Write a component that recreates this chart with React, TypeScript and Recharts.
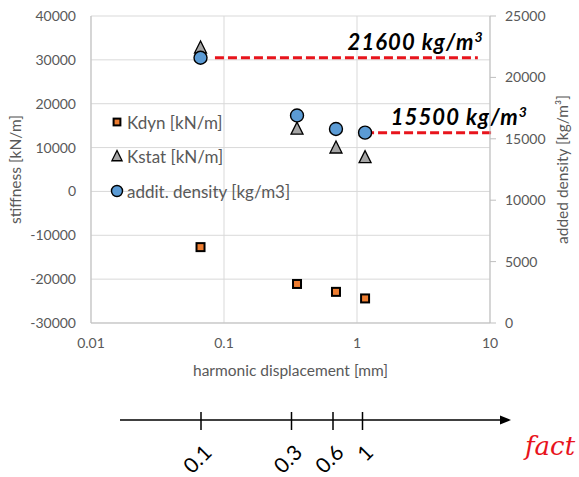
import React from 'react';
import { ComposedChart, Scatter, XAxis, YAxis, CartesianGrid, ReferenceLine, Legend } from 'recharts';

// harmonic displacement [mm] per test
const displacement = [0.0666, 0.354, 0.695, 1.15];
const kdyn = [-12700, -21100, -22900, -24400];
const kstat = [32700, 14200, 9900, 7700];
const addedDensity = [21600, 16900, 15800, 15500];

const xTicks = [0.01, 0.1, 1, 10];
const leftTicks = [-30000, -20000, -10000, 0, 10000, 20000, 30000, 40000];
const rightTicks = [0, 5000, 10000, 15000, 20000, 25000];

// red dashed density markers
const refDensity = [21600, 15500];
const refFrom = [0.0855, 1.15];
const refTo = [8.1, 10.35];
const refText = ['21600 kg/m', '15500 kg/m'];

// lower "fact" scale
const factLabels = ['0.1', '0.3', '0.6', '1'];
const factTickX = [201, 291.5, 333, 362.5];

const rows = displacement.map((d, i) => ({
  disp: d,
  kdyn: kdyn[i],
  kstat: kstat[i],
  density: addedDensity[i],
}));

const FONT = 'Lato, "Open Sans", sans-serif';
const GREY_TEXT = '#595959';

const marker = (type: string, cx: number, cy: number, s = 1) => {
  if (type === 'square')
    return <rect x={cx - 4 * s} y={cy - 4 * s} width={8 * s} height={8 * s} fill="#ED7D31" stroke="#000" strokeWidth={2} />;
  if (type === 'triangle')
    return (
      <polygon
        points={`${cx},${cy - 7 * s} ${cx - 6 * s},${cy + 5 * s} ${cx + 6 * s},${cy + 5 * s}`}
        fill="#A5A5A5"
        stroke="#000"
        strokeWidth={1.3}
      />
    );
  return <circle cx={cx} cy={cy} r={6.5 * s} fill="#5B9BD5" stroke="#000" strokeWidth={1.4} />;
};

const shape = (type: string) => (p: any) => <g>{marker(type, p.cx, p.cy)}</g>;

const renderLegend = (props: any) => (
  <svg width={240} height={110} style={{ overflow: 'visible' }}>
    {(props.payload || []).map((e: any, i: number) => {
      const cy = 18 + i * 34.5;
      return (
        <g key={i}>
          {marker(e.type, 11, cy, 0.85)}
          <text x={21} y={cy} dominantBaseline="central" fontFamily={FONT} fontSize={17} fill={GREY_TEXT}>
            {e.value}
          </text>
        </g>
      );
    })}
  </svg>
);

const yTitle = (text: string, dx: number) => (props: any) => {
  const vb = props.viewBox;
  const cx = vb.x + dx;
  const cy = vb.y + vb.height / 2;
  return (
    <text
      x={cx}
      y={cy}
      transform={`rotate(-90 ${cx} ${cy})`}
      textAnchor="middle"
      dominantBaseline="central"
      fontFamily={FONT}
      fontSize={15.5}
      fill={GREY_TEXT}
    >
      {text}
    </text>
  );
};

const xTitle = (props: any) => {
  const vb = props.viewBox;
  return (
    <text
      x={vb.x + vb.width / 2}
      y={vb.y + 47}
      textAnchor="middle"
      dominantBaseline="central"
      fontFamily={FONT}
      fontSize={15.5}
      fill={GREY_TEXT}
    >
      harmonic displacement [mm]
    </text>
  );
};

const annot = (text: string, dx: number) => (props: any) => {
  const vb = props.viewBox;
  return (
    <text
      x={vb.x + vb.width + dx}
      y={vb.y - 8}
      textAnchor="end"
      fontFamily={FONT}
      fontWeight={700}
      fontStyle="italic"
      fontSize={22}
      letterSpacing={1.1}
      fill="#000"
    >
      {text}
      <tspan dy={-8} fontSize={14}>3</tspan>
    </text>
  );
};

const annotDx = [6, 36];

export default function App() {
  return (
    <div style={{ position: 'absolute', left: 0, top: 0, width: 579, height: 477, background: '#fff' }}>
      <ComposedChart width={579} height={477} data={rows} margin={{ top: 16, right: 0, bottom: 94, left: 0 }}>
        <CartesianGrid yAxisId="left" stroke="#d9d9d9" />
        <XAxis
          dataKey="disp"
          type="number"
          scale="log"
          domain={[0.01, 10]}
          ticks={xTicks}
          allowDataOverflow
          tickLine={false}
          axisLine={{ stroke: '#bfbfbf' }}
          tick={{ fill: GREY_TEXT, fontSize: 14, fontFamily: FONT }}
          tickMargin={9}
          height={60}
          label={xTitle}
        />
        <YAxis
          yAxisId="left"
          domain={[-30000, 40000]}
          ticks={leftTicks}
          tickLine={false}
          axisLine={{ stroke: '#bfbfbf' }}
          tick={{ fill: GREY_TEXT, fontSize: 14, fontFamily: FONT }}
          tickMargin={9}
          width={91}
          label={yTitle('stiffness [kN/m]', 15)}
        />
        <YAxis
          yAxisId="right"
          orientation="right"
          domain={[0, 25000]}
          ticks={rightTicks}
          tickLine={{ stroke: '#bfbfbf' }}
          axisLine={{ stroke: '#bfbfbf' }}
          tick={{ fill: GREY_TEXT, fontSize: 14, fontFamily: FONT }}
          tickMargin={9}
          width={89}
          label={yTitle('added density [kg/m³]', 72)}
        />
        <Legend
          layout="vertical"
          align="center"
          verticalAlign="middle"
          wrapperStyle={{ left: 106, top: 104, width: 240, height: 110 }}
          content={renderLegend}
        />
        <Scatter
          name="Kdyn [kN/m]"
          yAxisId="left"
          dataKey="kdyn"
          legendType="square"
          fill="#ED7D31"
          shape={shape('square')}
          isAnimationActive={false}
        />
        <Scatter
          name="Kstat [kN/m]"
          yAxisId="left"
          dataKey="kstat"
          legendType="triangle"
          fill="#A5A5A5"
          shape={shape('triangle')}
          isAnimationActive={false}
        />
        <Scatter
          name="addit. density [kg/m3]"
          yAxisId="right"
          dataKey="density"
          legendType="circle"
          fill="#5B9BD5"
          shape={shape('circle')}
          isAnimationActive={false}
        />
        {refDensity.map((v, i) => (
          <ReferenceLine
            key={i}
            yAxisId="right"
            segment={[
              { x: refFrom[i], y: v },
              { x: refTo[i], y: v },
            ]}
            stroke="#E8141C"
            strokeWidth={3}
            strokeDasharray="9 4"
            ifOverflow="visible"
            label={annot(refText[i], annotDx[i])}
          />
        ))}
      </ComposedChart>

      {/* hand-drawn "fact" scale under the chart */}
      <svg width={579} height={477} style={{ position: 'absolute', left: 0, top: 0, pointerEvents: 'none' }}>
        <line x1={120} y1={420} x2={503} y2={420} stroke="#000" strokeWidth={1.5} />
        <polygon points="511,420 500,415.5 500,424.5" fill="#000" />
        {factLabels.map((t, i) => (
          <g key={t}>
            <line x1={factTickX[i]} y1={412} x2={factTickX[i]} y2={430} stroke="#000" strokeWidth={1.5} />
            <text
              x={factTickX[i] + 12}
              y={454}
              textAnchor="end"
              transform={`rotate(-45 ${factTickX[i] + 12} 454)`}
              fontFamily={FONT}
              fontSize={21}
              fill="#000"
            >
              {t}
            </text>
          </g>
        ))}
        <text x={525} y={455} fontFamily='"DejaVu Serif", serif' fontStyle="italic" fontSize={26} fill="#E8141C">
          fact
        </text>
      </svg>
    </div>
  );
}
